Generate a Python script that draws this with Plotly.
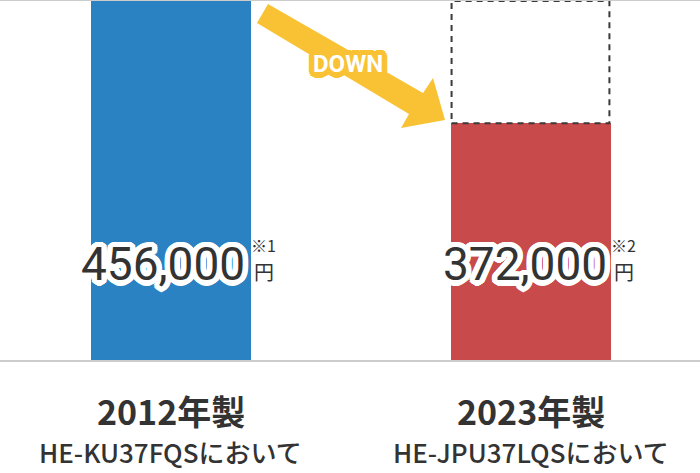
import math
import plotly.graph_objects as go

# ---- data ----
years = ["2012年製", "2023年製"]
models = ["HE-KU37FQSにおいて", "HE-JPU37LQSにおいて"]
prices = [456000, 372000]
price_labels = ["456,000", "372,000"]
notes = ["※1", "※2"]
bar_colors = ["#2b82c2", "#c84a4a"]

W, H = 700, 473
TOP, BASE = 1, 360  # pixel rows of plot area


def outline(color, radii=(1.5, 3, 4.5), steps=16):
    parts = []
    for r in radii:
        for k in range(steps):
            a = 2 * math.pi * k / steps
            parts.append(f"{r*math.cos(a):.2f}px {r*math.sin(a):.2f}px 0 {color}")
    return ", ".join(parts)


def px2paper(px, py):
    return px / W, (BASE - py) / (BASE - TOP)


x_pos = list(range(len(prices)))
bar_w = 160 / 360

fig = go.Figure()
fig.add_trace(go.Bar(
    x=x_pos, y=prices, width=bar_w,
    marker=dict(color=bar_colors, line=dict(width=0)),
    hoverinfo="skip", showlegend=False,
))

# dashed outline showing the former price level on the 2nd bar
fig.add_shape(type="rect", xref="x", yref="y",
              x0=x_pos[1] - bar_w / 2 + 0.003, x1=x_pos[1] + bar_w / 2 - 0.003,
              y0=prices[1], y1=prices[0],
              line=dict(color="#3a3a3a", width=2, dash="6px,5px"),
              fillcolor="rgba(0,0,0,0)", layer="above")

# DOWN arrow (decoration)
arrow_px = [(268, 4), (423, 93), (433, 78), (445, 120), (401, 128), (409, 114), (257, 23)]
pts = [px2paper(x, y) for x, y in arrow_px]
path = "M " + " L ".join(f"{x:.4f},{y:.4f}" for x, y in pts) + " Z"
fig.add_shape(type="path", xref="paper", yref="paper", path=path,
              fillcolor="#f9c235", line=dict(width=0), layer="above")

dx, dy = px2paper(348, 64)
fig.add_annotation(x=dx, y=dy, xref="paper", yref="paper", text="<b>DOWN</b>",
                   showarrow=False, xanchor="center", yanchor="middle",
                   font=dict(family="Roboto", size=24, color="#ffffff",
                             shadow=outline("#f9c235", radii=(1.5, 3, 4.5, 5.5))))

num_shift = [-8, -6]
for i in range(len(prices)):
    # big price
    fig.add_annotation(x=x_pos[i], y=(BASE - 264) / (BASE - TOP), xref="x", yref="paper",
                       text=price_labels[i], showarrow=False, xshift=num_shift[i],
                       xanchor="center", yanchor="middle",
                       font=dict(family="Roboto", size=46, color="#333333",
                                 shadow=outline("#ffffff", radii=(1.5, 3, 4.5, 5.5), steps=20)))
    # yen
    fig.add_annotation(x=x_pos[i], y=(BASE - 271) / (BASE - TOP), xref="x", yref="paper",
                       text="円", showarrow=False, xshift=93,
                       xanchor="center", yanchor="middle",
                       font=dict(family="Noto Sans CJK JP", size=20, color="#333333"))
    # note mark
    fig.add_annotation(x=x_pos[i], y=(BASE - 245) / (BASE - TOP), xref="x", yref="paper",
                       text=notes[i], showarrow=False, xshift=93,
                       xanchor="center", yanchor="middle",
                       font=dict(family="Noto Sans CJK JP", size=16, color="#333333"))
    # year label
    fig.add_annotation(x=x_pos[i], y=(BASE - 410) / (BASE - TOP), xref="x", yref="paper",
                       text=years[i], showarrow=False,
                       xanchor="center", yanchor="middle",
                       font=dict(family="Noto Sans CJK JP", size=34, color="#333333", weight=700))
    # model label
    fig.add_annotation(x=x_pos[i], y=(BASE - 451) / (BASE - TOP), xref="x", yref="paper",
                       text=models[i], showarrow=False,
                       xanchor="center", yanchor="middle",
                       font=dict(family="Noto Sans CJK JP", size=26, color="#333333", weight=500))

fig.update_layout(
    width=W, height=H,
    margin=dict(l=0, r=0, t=TOP, b=H - BASE),
    paper_bgcolor="#ffffff", plot_bgcolor="#ffffff",
    bargap=0,
    xaxis=dict(range=[-170.5 / 360, (W - 170.5) / 360], showticklabels=False,
               showgrid=False, zeroline=False, ticks="",
               showline=True, linecolor="#cccccc", linewidth=2, mirror=True, fixedrange=True),
    yaxis=dict(range=[209500, 456000], showticklabels=False, showgrid=False,
               zeroline=False, showline=False, fixedrange=True),
)

fig.write_html("out.html", config={"displayModeBar": False},
               post_script="document.body.style.margin='0';document.body.style.overflow='hidden';")
